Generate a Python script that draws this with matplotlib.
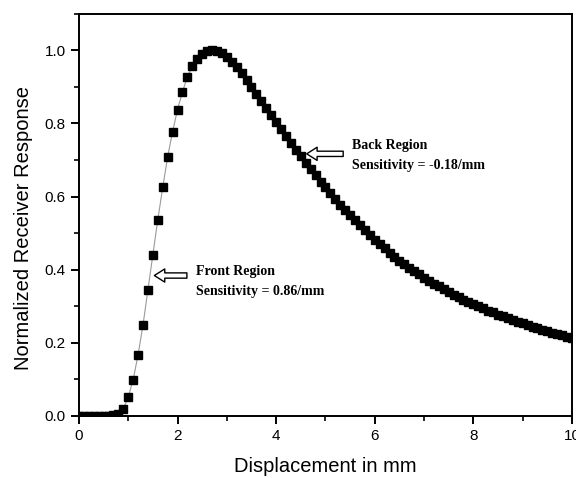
"""
Normalized receiver response versus displacement, with the front and back
sensitivity regions called out by hollow block arrows.
"""

import matplotlib

matplotlib.use("Agg")  # headless
import matplotlib.pyplot as plt
import numpy as np
from matplotlib.ticker import MultipleLocator

# ------------------------------------------------------------------ #
# Data (0.1 mm sampling grid)
# ------------------------------------------------------------------ #
displacement_mm = np.round(np.arange(0, 101) * 0.1, 1)

response = [
    0.000, 0.000, 0.000, 0.000, 0.000, 0.000, 0.000,          # 0.0 - 0.6
    0.001, 0.005, 0.019, 0.051, 0.099, 0.167, 0.249,          # 0.7 - 1.3
    0.345, 0.441, 0.537, 0.625, 0.709, 0.778, 0.838,          # 1.4 - 2.0
    0.887, 0.927, 0.957, 0.977, 0.991, 0.998, 1.000,          # 2.1 - 2.7
    0.998, 0.992, 0.982, 0.969, 0.954, 0.937, 0.919,          # 2.8 - 3.4
    0.900, 0.881, 0.861, 0.842, 0.822, 0.803, 0.784,          # 3.5 - 4.1
    0.765, 0.746, 0.728, 0.710, 0.692, 0.675, 0.658,          # 4.2 - 4.8
    0.641, 0.625, 0.609, 0.593, 0.578, 0.563, 0.549,          # 4.9 - 5.5
    0.535, 0.521, 0.508, 0.495, 0.482, 0.470, 0.458,          # 5.6 - 6.2
    0.447, 0.436, 0.425, 0.415, 0.405, 0.396, 0.387,          # 6.3 - 6.9
    0.378, 0.370, 0.362, 0.354, 0.346, 0.339, 0.332,          # 7.0 - 7.6
    0.325, 0.318, 0.312, 0.306, 0.300, 0.294, 0.288,          # 7.7 - 8.3
    0.283, 0.277, 0.272, 0.267, 0.262, 0.257, 0.253,          # 8.4 - 9.0
    0.248, 0.244, 0.240, 0.236, 0.232, 0.228, 0.224,          # 9.1 - 9.7
    0.220, 0.216, 0.212,                                      # 9.8 - 10.0
]
assert len(response) == len(displacement_mm)

region_titles = ["Front Region", "Back Region"]
region_sensitivity = ["Sensitivity = 0.86/mm", "Sensitivity = -0.18/mm"]
# (arrow tip, arrow tail, text anchor) in data coordinates
region_arrow_tip = [(1.53, 0.384), (4.62, 0.717)]
region_arrow_tail = [(2.19, 0.384), (5.36, 0.717)]
region_text_xy = [(2.37, 0.395), (5.53, 0.740)]

# ------------------------------------------------------------------ #
# Figure
# ------------------------------------------------------------------ #
plt.rcParams["font.family"] = ["Liberation Sans", "DejaVu Sans"]

fig = plt.figure(figsize=(5.76, 4.78), dpi=100)
ax = fig.add_axes([0.137, 0.130, 0.856, 0.841])

ax.plot(displacement_mm, response, color="#9a9a9a", lw=0.8, zorder=2)
ax.plot(displacement_mm, response, ls="none", marker="s", ms=5.6,
        color="black", mec="black", zorder=3)

ax.set_xlim(0, 10)
ax.set_ylim(0, 1.1)
ax.xaxis.set_major_locator(MultipleLocator(2))
ax.xaxis.set_minor_locator(MultipleLocator(1))
ax.yaxis.set_major_locator(MultipleLocator(0.2))
ax.yaxis.set_minor_locator(MultipleLocator(0.1))
ax.yaxis.set_major_formatter(lambda v, _pos: f"{v:.1f}")

for spine in ax.spines.values():
    spine.set_linewidth(1.4)
ax.tick_params(which="major", direction="out", length=6, width=1.4,
               labelsize=11, colors="black", top=False, right=False)
ax.tick_params(which="minor", direction="out", length=3.5, width=1.2,
               top=False, right=False)

ax.set_xlabel("Displacement in mm", fontsize=14.5, labelpad=10)
ax.set_ylabel("Normalized Receiver Response", fontsize=14.5)
ax.yaxis.set_label_coords(-0.094, 0.468)  # sits a little below centre

# Hollow block arrows and the bold serif captions next to them.
for title, sens, tip, tail, (tx, ty) in zip(region_titles, region_sensitivity,
                                             region_arrow_tip, region_arrow_tail,
                                             region_text_xy):
    ax.annotate(
        "", xy=tip, xytext=tail,
        arrowprops=dict(
            arrowstyle="simple,head_length=0.75,head_width=0.95,tail_width=0.38",
            fc="white", ec="black", lw=1.0, mutation_scale=10,
            shrinkA=0, shrinkB=0,
        ),
        zorder=4,
    )
    ax.text(tx, ty, title, family="Liberation Serif", weight="bold",
            fontsize=10, va="center", ha="left")
    ax.text(tx, ty - 0.055, sens, family="Liberation Serif", weight="bold",
            fontsize=10, va="center", ha="left")

fig.savefig("out.png", dpi=100)
plt.close(fig)
